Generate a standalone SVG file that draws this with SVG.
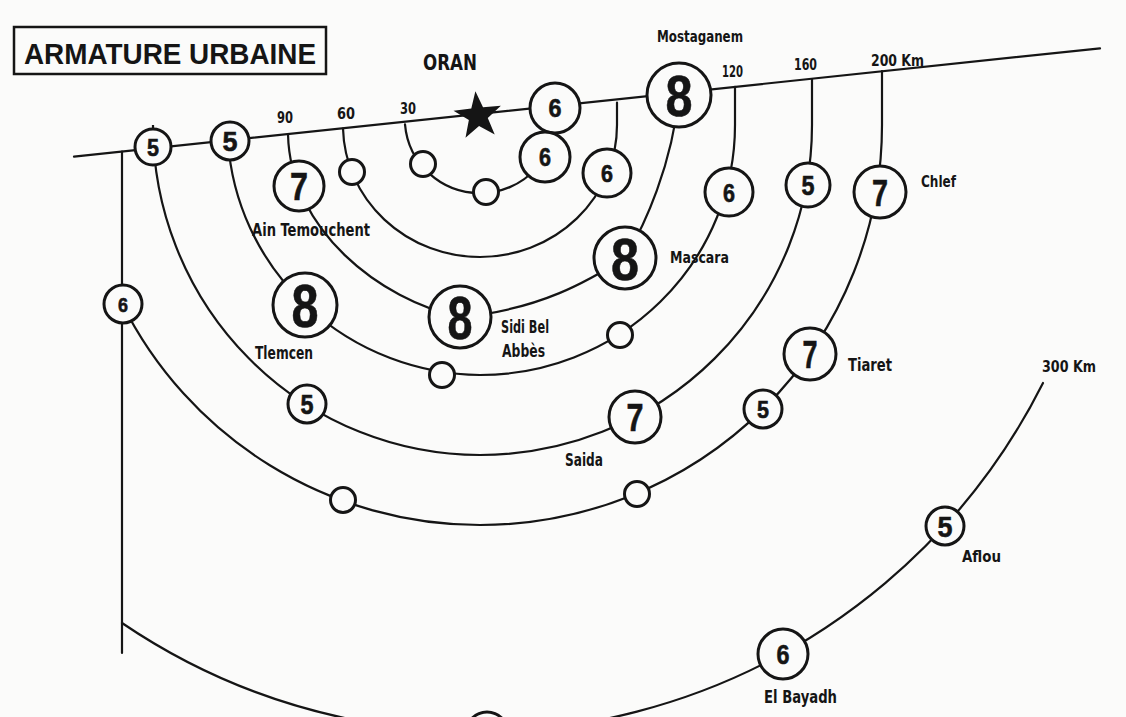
<svg xmlns="http://www.w3.org/2000/svg" width="1126" height="717" viewBox="0 0 1126 717">
<defs>
<style>
.ln{fill:none;stroke:#151515;stroke-width:2.2;stroke-linecap:round}
.nd circle{fill:#fbfbfa;stroke:#151515;stroke-width:3}
.num{font-family:'Liberation Sans',Arial,sans-serif;font-weight:bold;text-anchor:middle;fill:#151515;stroke:#151515;stroke-width:0.6}
.lbl{font-family:'DejaVu Sans Condensed','Liberation Sans Narrow','Liberation Sans',sans-serif;font-weight:bold;font-stretch:condensed;fill:#151515}
.ttl{font-family:'Liberation Sans',Arial,sans-serif;font-weight:bold;fill:#151515}
</style>
</defs>
<rect x="0" y="0" width="1126" height="717" fill="#fbfbfa"/>

<g id="title">
<rect x="14" y="27" width="312" height="47" fill="none" stroke="#151515" stroke-width="2.5"/>
<text class="ttl" x="24" y="64" font-size="29" textLength="292" lengthAdjust="spacingAndGlyphs">ARMATURE URBAINE</text>
</g>

<g id="connectors">
<path class="ln" d="M74,156.7 L1100,48.3"/>
<path class="ln" d="M122,151.7 L122,653"/>
<path class="ln" d="M405,124.4 A75,75 0 0 0 480,193 A75,75 0 0 0 555,108"/>
<path class="ln" d="M343,128.5 A137,132 0 0 0 480,257 A137,132 0 0 0 617,125 L617,102.6"/>
<path class="ln" d="M288,134.1 C290,230 380,300 460,317 C540,310 590,280 625,258 C645,225 672,165 679,95"/>
<path class="ln" d="M228,141 A255,250 0 0 0 480,375 A255,250 0 0 0 735,125 L735,86.9"/>
<path class="ln" d="M153,147 L153,125 A327,330 0 0 0 480,455 A332,330 0 0 0 812,125 L812,79.2"/>
<path class="ln" d="M122.3,304 A400,400 0 0 0 480,525 A402,400 0 0 0 882,125 L882,71"/>
<path class="ln" d="M122,623 A633,633 0 0 0 1043,383"/>
</g>

<g id="oran">
<path d="M478,91 L483.9,107.9 L501.8,108.3 L487.5,119.1 L492.7,136.2 L478,126 L463.3,136.2 L468.5,119.1 L454.2,108.3 L472.1,107.9 Z" fill="#151515" transform="rotate(-6 478 116)"/>
<text class="lbl" x="423" y="70" font-size="21" textLength="54" lengthAdjust="spacingAndGlyphs">ORAN</text>
</g>

<g id="scale-labels">
<text class="lbl" x="400" y="114" font-size="16" textLength="16" lengthAdjust="spacingAndGlyphs">30</text>
<text class="lbl" x="337" y="119" font-size="16" textLength="18" lengthAdjust="spacingAndGlyphs">60</text>
<text class="lbl" x="277" y="123" font-size="16" textLength="16" lengthAdjust="spacingAndGlyphs">90</text>
<text class="lbl" x="722" y="77" font-size="16" textLength="21" lengthAdjust="spacingAndGlyphs">120</text>
<text class="lbl" x="794" y="70" font-size="16" textLength="23" lengthAdjust="spacingAndGlyphs">160</text>
<text class="lbl" x="871" y="66" font-size="16" textLength="53" lengthAdjust="spacingAndGlyphs">200 Km</text>
<text class="lbl" x="1042" y="372" font-size="16" textLength="54" lengthAdjust="spacingAndGlyphs">300 Km</text>
</g>

<g id="n-5a" class="nd"><circle cx="153" cy="147" r="18"/><text class="num" x="153" y="155.6" font-size="24" textLength="12" lengthAdjust="spacingAndGlyphs">5</text></g>
<g id="n-5b" class="nd"><circle cx="230" cy="141" r="19"/><text class="num" x="230" y="151" font-size="28" textLength="15" lengthAdjust="spacingAndGlyphs">5</text></g>
<g id="n-6-west" class="nd"><circle cx="123" cy="304" r="19"/><text class="num" x="123" y="311.5" font-size="21" textLength="10" lengthAdjust="spacingAndGlyphs">6</text></g>
<g id="n-6-coast" class="nd"><circle cx="555" cy="108" r="25"/><text class="num" x="555" y="117" font-size="25" textLength="13" lengthAdjust="spacingAndGlyphs">6</text></g>
<g id="n-mostaganem" class="nd"><circle cx="679" cy="95" r="32"/><text class="num" x="679" y="116" font-size="58" textLength="27" lengthAdjust="spacingAndGlyphs">8</text>
<text class="lbl" x="657" y="42" font-size="16" textLength="86" lengthAdjust="spacingAndGlyphs">Mostaganem</text></g>

<g id="n-s30a" class="nd"><circle cx="423" cy="164" r="12.5"/></g>
<g id="n-s30b" class="nd"><circle cx="486" cy="192" r="12.5"/></g>
<g id="n-6-30" class="nd"><circle cx="545" cy="157" r="25"/><text class="num" x="545" y="166" font-size="25" textLength="12" lengthAdjust="spacingAndGlyphs">6</text></g>
<g id="n-s60" class="nd"><circle cx="352" cy="172" r="12.5"/></g>
<g id="n-6-60" class="nd"><circle cx="607" cy="173" r="24"/><text class="num" x="607" y="181.5" font-size="24" textLength="12" lengthAdjust="spacingAndGlyphs">6</text></g>
<g id="n-6-120" class="nd"><circle cx="729" cy="192" r="24"/><text class="num" x="729" y="201.5" font-size="26" textLength="12" lengthAdjust="spacingAndGlyphs">6</text></g>
<g id="n-5-160" class="nd"><circle cx="808" cy="185" r="22"/><text class="num" x="808" y="195" font-size="27" textLength="13" lengthAdjust="spacingAndGlyphs">5</text></g>
<g id="n-chlef" class="nd"><circle cx="880" cy="192" r="26"/><text class="num" x="880" y="205.5" font-size="37" textLength="16" lengthAdjust="spacingAndGlyphs">7</text>
<text class="lbl" x="921" y="187" font-size="16" textLength="35" lengthAdjust="spacingAndGlyphs">Chlef</text></g>

<g id="n-ain-temouchent" class="nd"><circle cx="299" cy="186" r="25"/><text class="num" x="299" y="200" font-size="39" textLength="18" lengthAdjust="spacingAndGlyphs">7</text>
<text class="lbl" x="252" y="236" font-size="17" textLength="118" lengthAdjust="spacingAndGlyphs">Ain Temouchent</text></g>
<g id="n-tlemcen" class="nd"><circle cx="305" cy="305" r="32"/><text class="num" x="305" y="327" font-size="62" textLength="27" lengthAdjust="spacingAndGlyphs">8</text>
<text class="lbl" x="255" y="359" font-size="17" textLength="58" lengthAdjust="spacingAndGlyphs">Tlemcen</text></g>
<g id="n-sidi-bel-abbes" class="nd"><circle cx="460" cy="317" r="31"/><text class="num" x="460" y="339" font-size="62" textLength="25" lengthAdjust="spacingAndGlyphs">8</text>
<text class="lbl" x="501" y="333" font-size="17" textLength="48" lengthAdjust="spacingAndGlyphs">Sidi Bel</text>
<text class="lbl" x="502" y="357" font-size="17" textLength="43" lengthAdjust="spacingAndGlyphs">Abbès</text></g>
<g id="n-mascara" class="nd"><circle cx="625" cy="258" r="31"/><text class="num" x="625" y="279.5" font-size="60" textLength="28" lengthAdjust="spacingAndGlyphs">8</text>
<text class="lbl" x="670" y="263" font-size="16" textLength="59" lengthAdjust="spacingAndGlyphs">Mascara</text></g>

<g id="n-s120a" class="nd"><circle cx="442" cy="375" r="12.5"/></g>
<g id="n-s120b" class="nd"><circle cx="620" cy="335" r="12.5"/></g>
<g id="n-5-160b" class="nd"><circle cx="307" cy="404" r="19"/><text class="num" x="307" y="413.5" font-size="27" textLength="13" lengthAdjust="spacingAndGlyphs">5</text></g>
<g id="n-saida" class="nd"><circle cx="635" cy="417" r="26"/><text class="num" x="635" y="431" font-size="39" textLength="17" lengthAdjust="spacingAndGlyphs">7</text>
<text class="lbl" x="565" y="466" font-size="17" textLength="38" lengthAdjust="spacingAndGlyphs">Saida</text></g>

<g id="n-s200a" class="nd"><circle cx="343" cy="500" r="12.5"/></g>
<g id="n-s200b" class="nd"><circle cx="637" cy="494" r="12.5"/></g>
<g id="n-5-200" class="nd"><circle cx="763" cy="409" r="19"/><text class="num" x="763" y="417.5" font-size="24" textLength="12" lengthAdjust="spacingAndGlyphs">5</text></g>
<g id="n-tiaret" class="nd"><circle cx="810" cy="354" r="26"/><text class="num" x="810" y="368" font-size="39" textLength="15" lengthAdjust="spacingAndGlyphs">7</text>
<text class="lbl" x="848" y="371" font-size="17" textLength="44" lengthAdjust="spacingAndGlyphs">Tiaret</text></g>

<g id="n-aflou" class="nd"><circle cx="945" cy="526" r="19"/><text class="num" x="945" y="537" font-size="30" textLength="15" lengthAdjust="spacingAndGlyphs">5</text>
<text class="lbl" x="962" y="562" font-size="16" textLength="39" lengthAdjust="spacingAndGlyphs">Aflou</text></g>
<g id="n-el-bayadh" class="nd"><circle cx="783" cy="654" r="25"/><text class="num" x="783" y="664" font-size="28" textLength="13" lengthAdjust="spacingAndGlyphs">6</text>
<text class="lbl" x="764" y="703" font-size="17" textLength="73" lengthAdjust="spacingAndGlyphs">El Bayadh</text></g>
<g id="n-s300" class="nd"><circle cx="487" cy="733" r="21"/></g>
</svg>
